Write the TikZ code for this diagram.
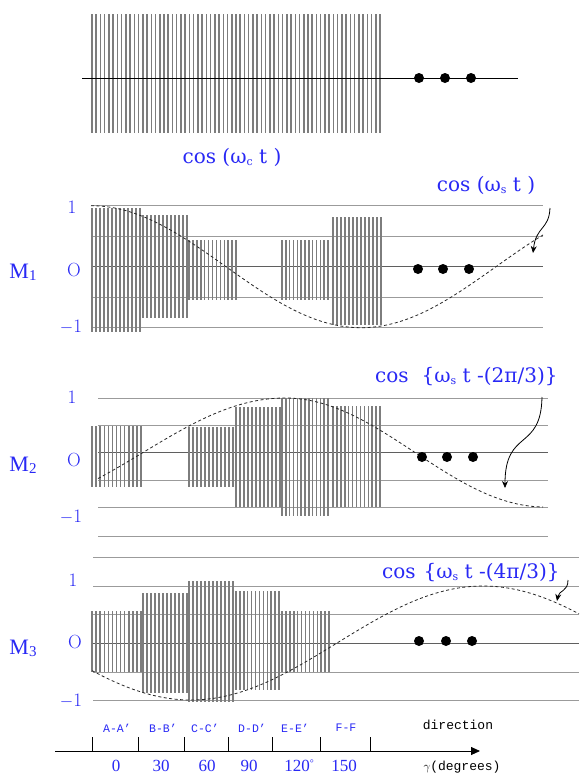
\documentclass[tikz,border=0pt]{standalone}
\usepackage{fontspec}
\newfontfamily\cosfont{DejaVu Serif}
\newfontfamily\lblmono{Liberation Mono}
\newfontfamily\numfont{Liberation Serif}
\usetikzlibrary{arrows.meta}
\definecolor{myblue}{RGB}{40,40,245}
\definecolor{stripegray}{RGB}{125,125,125}
\definecolor{gridgray}{RGB}{155,155,155}
\definecolor{zerogray}{RGB}{95,95,95}
\newcommand{\stripeblock}[5]{%
  \foreach \i in {0,...,#3}
    \draw[stripe] ({#1+(#2-#1)/#3*\i},#4) -- ({#1+(#2-#1)/#3*\i},#5);}
\newcommand{\sub}[1]{\raisebox{-2pt}{\fontsize{11}{11}\selectfont #1}}
\begin{document}
\begin{tikzpicture}[x=1pt,y=-1pt,
  stripe/.style={draw=stripegray,line width=1.5pt},
  gridline/.style={draw=gridgray,line width=0.9pt},
  zeroline/.style={draw=zerogray,line width=0.9pt},
  wave/.style={draw=black!85,line width=0.8pt,dash pattern=on 3pt off 2.5pt},
  dotmark/.style={circle,fill=black,inner sep=0pt,minimum size=10pt},
  axlbl/.style={text=myblue,font=\fontsize{19}{19}\selectfont,inner sep=0pt},
  mlbl/.style={text=myblue,font=\numfont\fontsize{22}{22}\selectfont,inner sep=0pt},
  coslbl/.style={text=myblue,font=\cosfont\fontsize{20}{20}\selectfont,inner sep=0pt},
  seclbl/.style={text=myblue,font=\lblmono\fontsize{11.5}{11.5}\selectfont,inner sep=0pt},
  numlbl/.style={text=myblue,font=\numfont\fontsize{17}{17}\selectfont,inner sep=0pt,anchor=base},
  blklbl/.style={text=black,font=\lblmono\fontsize{13}{13}\selectfont,inner sep=0pt},
  curvarrow/.style={draw=black,line width=0.8pt,-{Stealth[length=7pt,width=6pt]}}]
\useasboundingbox (0,0) rectangle (579,774);
\fill[white] (0,0) rectangle (579,774);

% ---------- carrier ----------
\stripeblock{92}{380}{68}{14}{133}
\coordinate (cl) at (82,78);
\coordinate (cr) at (518,78);
\draw[black,line width=0.9pt] (cl) -- (cr);
\node[dotmark] (d01) at (419,78) {};
\node[dotmark] (d02) at (445,78) {};
\node[dotmark] (d03) at (471,78) {};
\node[coslbl] (carrier) at (232,157) {cos (ω\sub{c} t )};

% ---------- M1 ----------
\foreach \yy in {205.7,236.2,297.2,327.7} \draw[gridline] (91,\yy) -- (543,\yy);
\draw[zeroline] (91,266.7) -- (543,266.7);
\stripeblock{92}{140}{12}{208}{332}
\stripeblock{143}{187}{11}{215}{318}
\stripeblock{189}{236}{12}{240}{300}
\stripeblock{282}{328}{12}{240}{300}
\stripeblock{333}{381}{12}{217}{325}
\draw[wave] plot[domain=91:543,samples=120] (\x,{266.7-61*cos((\x-91)/540*360)});
\node[dotmark] (d11) at (418,269) {};
\node[dotmark] (d12) at (443,269) {};
\node[dotmark] (d13) at (469,269) {};
\node[mlbl] (m1) at (23,272) {M\sub{\fontsize{15}{15}\selectfont 1}};
\node[axlbl] (m1p) at (72,207) {1};
\node[axlbl] (m1z) at (74,270) {O};
\node[axlbl] (m1n) at (71,327) {$-$1};
\node[coslbl] (cos1) at (486,185) {cos (ω\sub{s} t )};
\coordinate (a1s) at (550,208);
\coordinate (a1e) at (533,253);
\draw[curvarrow] (a1s) .. controls (549,230) and (536,226) .. (a1e);

% ---------- M2 ----------
\foreach \yy in {398,425.5,480,507,536} \draw[gridline] (98,\yy) -- (548,\yy);
\draw[zeroline] (98,452.5) -- (548,452.5);
\stripeblock{92}{141}{12}{426}{487}
\stripeblock{189}{233}{11}{427}{487}
\stripeblock{236}{280}{11}{407}{507}
\stripeblock{282}{328}{12}{398}{516}
\stripeblock{333}{380}{12}{406}{507}
\draw[wave] plot[domain=98:285,samples=80] (\x,{452.5-54.5*cos((\x-285)/568*360)})
  -- plot[domain=285:543,samples=100] (\x,{452.5-54.5*cos((\x-285)/520*360)});
\node[dotmark] (d21) at (422,457) {};
\node[dotmark] (d22) at (447,457) {};
\node[dotmark] (d23) at (473,457) {};
\node[mlbl] (m2) at (23,465) {M\sub{\fontsize{15}{15}\selectfont 2}};
\node[axlbl] (m2p) at (72,397) {1};
\node[axlbl] (m2z) at (74,460) {O};
\node[axlbl] (m2n) at (71,517) {$-$1};
\node[coslbl,anchor=west] (cos2) at (375,377) {cos\hspace{13pt}\{ω\sub{s} t -(2π/3)\}};
\coordinate (a2s) at (542,397);
\coordinate (a2e) at (505,488);
\draw[curvarrow] (a2s) .. controls (541,452) and (505,428) .. (a2e);

% ---------- M3 ----------
\foreach \yy in {557,586,614,672,700} \draw[gridline] (93,\yy) -- (579,\yy);
\draw[zeroline] (93,643) -- (579,643);
\stripeblock{92}{141}{12}{611}{672}
\stripeblock{143}{187}{11}{593}{693}
\stripeblock{189}{233}{11}{581}{702}
\stripeblock{236}{279}{11}{591}{690}
\stripeblock{282}{329}{12}{611}{672}
\draw[wave] plot[domain=92:579,samples=120] (\x,{643-57*cos((\x-483)/584*360)});
\node[dotmark] (d31) at (419,641) {};
\node[dotmark] (d32) at (446,641) {};
\node[dotmark] (d33) at (472,641) {};
\node[mlbl] (m3) at (23,648) {M\sub{\fontsize{15}{15}\selectfont 3}};
\node[axlbl] (m3p) at (73,580) {1};
\node[axlbl] (m3z) at (75,642) {O};
\node[axlbl] (m3n) at (71,701) {$-$1};
\node[coslbl,anchor=west] (cos3) at (382,573) {cos\hspace{8pt}\{ω\sub{s} t -(4π/3)\}};
\coordinate (a3s) at (568,580);
\coordinate (a3e) at (557,601);
\draw[curvarrow] (a3s) .. controls (568,592) and (559,590) .. (a3e);

% ---------- axis ----------
\coordinate (axl) at (55,751);
\coordinate (axr) at (480,751);
\draw[black,line width=0.9pt,-{Triangle[length=9pt,width=8pt]}] (axl) -- (axr);
\foreach \tx in {92,138,184,228,272,320,370} \draw[black,line width=0.9pt] (\tx,737) -- (\tx,751);
\node[seclbl] (sa) at (117,728) {A-A’};
\node[seclbl] (sb) at (163,728) {B-B’};
\node[seclbl] (sc) at (205,728) {C-C’};
\node[seclbl] (sd) at (252,728) {D-D’};
\node[seclbl] (se) at (295,728) {E-E’};
\node[seclbl] (sf) at (346,728) {F-F};
\node[blklbl] (dir) at (458,725) {direction};
\node[numlbl] (n0) at (116,771) {0};
\node[numlbl] (n30) at (161,771) {30};
\node[numlbl] (n60) at (207,771) {60};
\node[numlbl] (n90) at (249,771) {90};
\node[numlbl] (n120) at (299,771) {120\raisebox{5pt}{\fontsize{10}{10}\selectfont °}};
\node[numlbl] (n150) at (344,771) {150};
\node[blklbl,anchor=base] (gam) at (462,770) {$\gamma$(degrees)};
\end{tikzpicture}
\end{document}
